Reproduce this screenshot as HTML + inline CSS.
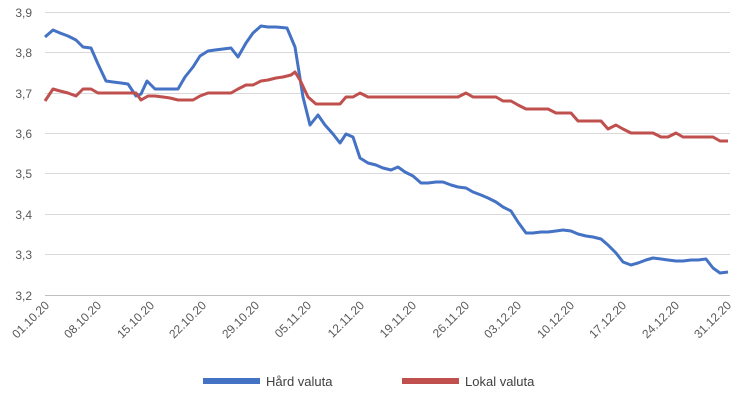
<!DOCTYPE html>
<html><head><meta charset="utf-8"><style>body{margin:0;background:#fff}svg{display:block;font-family:"Liberation Sans",sans-serif}</style></head><body>
<svg width="750" height="400" viewBox="0 0 750 400">
<g stroke="#d9d9d9" stroke-width="1">
<line x1="45" x2="730" y1="12.5" y2="12.5"/><line x1="45" x2="730" y1="52.5" y2="52.5"/><line x1="45" x2="730" y1="93.5" y2="93.5"/><line x1="45" x2="730" y1="133.5" y2="133.5"/><line x1="45" x2="730" y1="173.5" y2="173.5"/><line x1="45" x2="730" y1="214.5" y2="214.5"/><line x1="45" x2="730" y1="254.5" y2="254.5"/>
</g>
<line x1="45" x2="730" y1="295.5" y2="295.5" stroke="#bfbfbf"/>
<g font-size="12" fill="#595959" text-anchor="end">
<text x="32" y="17">3,9</text><text x="32" y="57">3,8</text><text x="32" y="98">3,7</text><text x="32" y="138">3,6</text><text x="32" y="178">3,5</text><text x="32" y="219">3,4</text><text x="32" y="259">3,3</text><text x="32" y="300">3,2</text>
</g>
<g font-size="12" fill="#595959" text-anchor="end">
<text transform="translate(50,306) rotate(-45)">01.10.20</text>
<text transform="translate(102,306) rotate(-45)">08.10.20</text>
<text transform="translate(155,306) rotate(-45)">15.10.20</text>
<text transform="translate(207,306) rotate(-45)">22.10.20</text>
<text transform="translate(260,306) rotate(-45)">29.10.20</text>
<text transform="translate(312,306) rotate(-45)">05.11.20</text>
<text transform="translate(365,306) rotate(-45)">12.11.20</text>
<text transform="translate(417,306) rotate(-45)">19.11.20</text>
<text transform="translate(470,306) rotate(-45)">26.11.20</text>
<text transform="translate(522,306) rotate(-45)">03.12.20</text>
<text transform="translate(575,306) rotate(-45)">10.12.20</text>
<text transform="translate(627,306) rotate(-45)">17.12.20</text>
<text transform="translate(680,306) rotate(-45)">24.12.20</text>
<text transform="translate(732,306) rotate(-45)">31.12.20</text>
</g>
<polyline fill="none" stroke="#4472C4" stroke-width="3" stroke-linejoin="round" points="45,37 53,30 60,33 68,36 76,40 83,47 91,48 98,64 106,81 113,82 121,83 128,84 136,96 141,94 147,81 155,89 163,89 170,89 178,89 185,77 193,67 200,56 208,51 215,50 223,49 231,48 238,57 246,43 253,33 261,26 268,27 276,27 287,28 295,47 303,97 310,125 318,115 325,125 333,134 340,143 346,134 353,137 360,158 368,163 376,165 383,168 391,170 398,167 405,172 413,176 421,183 428,183 436,182 443,182 451,185 458,187 466,188 473,192 481,195 488,198 496,202 503,207 511,211 518,222 526,233 533,233 541,232 548,232 556,231 563,230 571,231 578,234 586,236 593,237 601,239 608,245 616,253 623,262 631,265 638,263 646,260 653,258 661,259 668,260 676,261 683,261 691,260 698,260 706,259 713,268 720,273 728,272"/>
<polyline fill="none" stroke="#C0504D" stroke-width="3" stroke-linejoin="round" points="45,101 53,89 60,91 68,93 76,96 83,89 91,89 98,93 106,93 113,93 121,93 128,93 136,93 141,100 148,96 155,96 163,97 170,98 178,100 185,100 193,100 200,96 208,93 215,93 223,93 231,93 238,89 246,85 253,85 261,81 268,80 276,78 283,77 291,75 295,72 300,80 308,97 316,104 325,104 333,104 340,104 346,97 353,97 360,93 368,97 376,97 458,97 466,93 473,97 496,97 503,101 511,101 518,105 526,109 548,109 556,113 571,113 578,121 601,121 608,129 616,125 623,129 631,133 653,133 661,137 668,137 676,133 683,137 713,137 720,141 728,141"/>
<line x1="203" x2="260" y1="381" y2="381" stroke="#4472C4" stroke-width="6"/>
<text x="266" y="386" font-size="13" fill="#404040">Hård valuta</text>
<line x1="402" x2="459" y1="381" y2="381" stroke="#C0504D" stroke-width="6"/>
<text x="465" y="386" font-size="13" fill="#404040">Lokal valuta</text>
</svg>
</body></html>
